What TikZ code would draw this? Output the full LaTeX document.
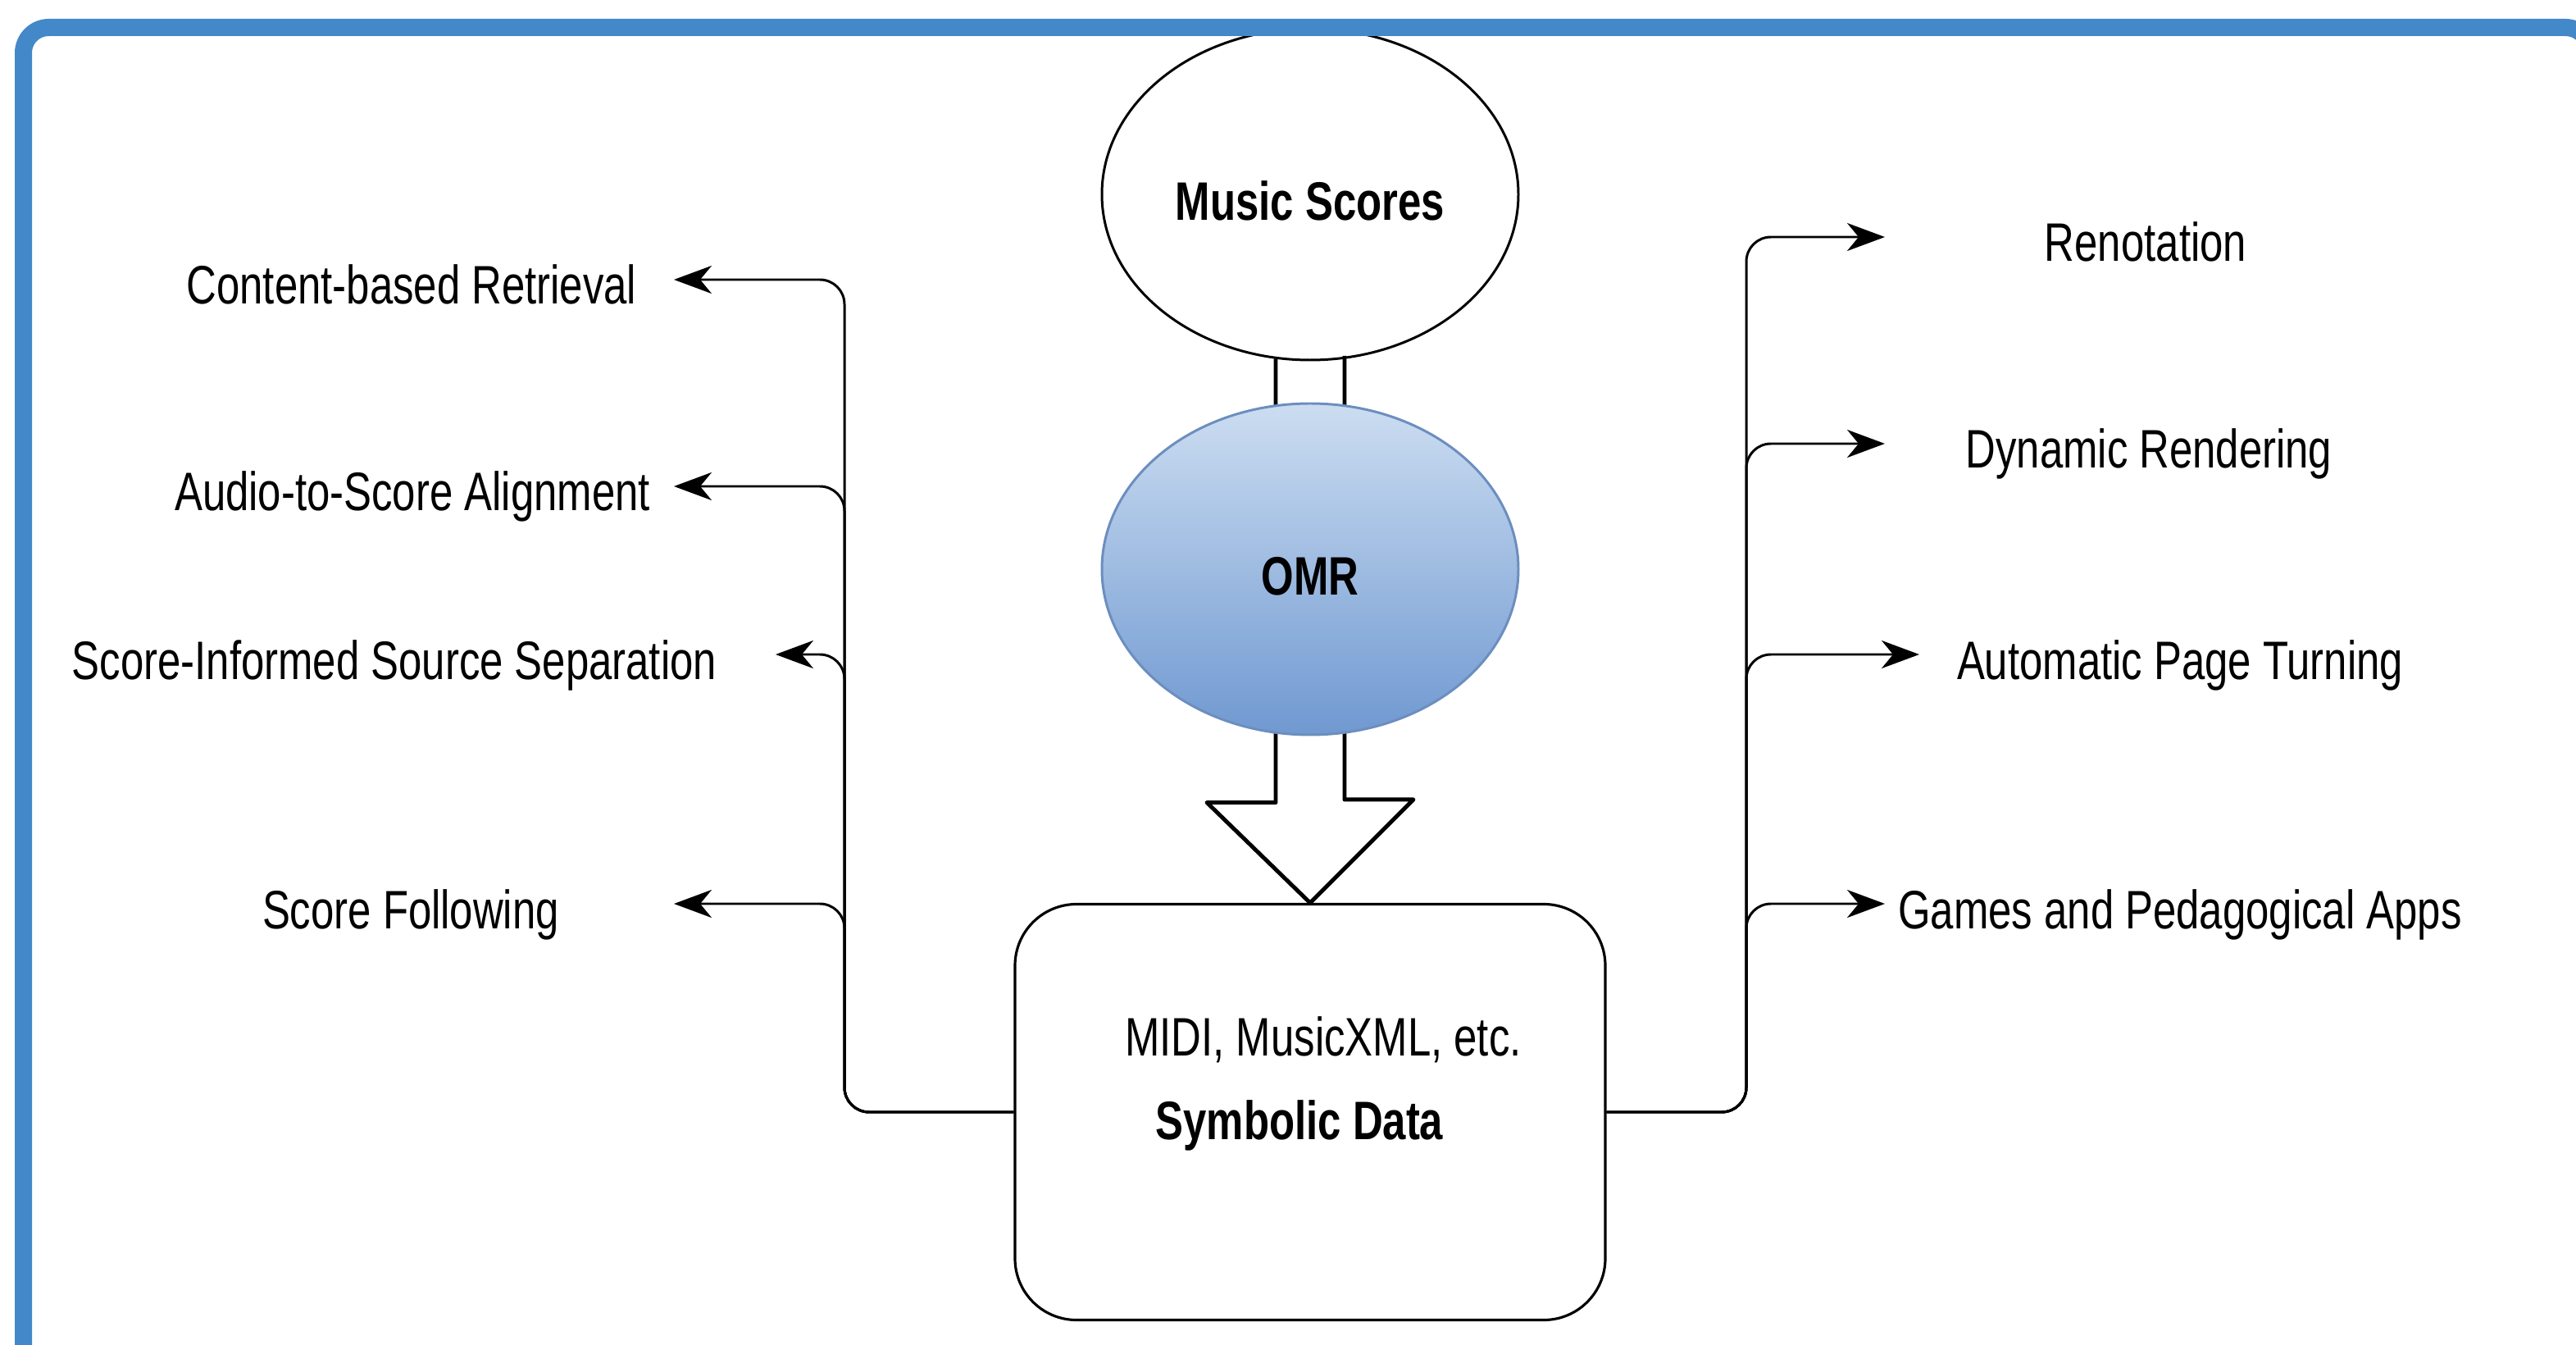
\documentclass[tikz,border=0pt]{standalone}
\usepackage{fontspec}
\setmainfont{Liberation Sans}[FakeStretch=0.77]
\usetikzlibrary{shapes.geometric, arrows.meta}

\definecolor{framecol}{HTML}{4388C8}
\definecolor{omrtop}{HTML}{CCDDF1}
\definecolor{omrbot}{HTML}{7099D1}
\definecolor{omrline}{HTML}{6C8EBF}

\tikzset{
    txt/.style={font=\fontsize{18.8}{22}\selectfont, inner sep=0pt, anchor=base},
    txtb/.style={txt, font=\fontsize{18.8}{22}\selectfont\bfseries},
    blob/.style={ellipse, draw, line width=0.85pt, minimum width=5.08cm, minimum height=4.04cm,
        text height=0.63cm, text depth=0pt, font=\fontsize{18.8}{22}\selectfont\bfseries},
    link/.style={line width=0.85pt, rounded corners=0.3cm, -{Stealth[length=4.6mm, width=3.4mm, inset=1.4mm]}},
}

\begin{document}
\begin{tikzpicture}
    \useasboundingbox (0,0) rectangle (31.42,-16.40);

    \node[draw, line width=0.9pt, rounded corners=0.75cm, minimum width=7.2cm, minimum height=5.07cm]
        (symb) at (15.98,-13.56) {};
    \node[txt] (midi) at (16.14,-12.87) {MIDI, MusicXML, etc.};
    \node[txtb] (symlbl) at (15.85,-13.89) {Symbolic Data};

    \node[blob, fill=white] (scores) at (15.98,-2.37) {Music Scores};

    \draw[line width=1.4pt, line join=round]
        ([xshift=-4.2mm, yshift=0.3mm]scores.south) -- ++(0,-5.41) -- ++(-0.84,0)
        -- (symb.north) -- ++(1.26,1.26) -- ++(-0.84,0) -- ++(0,5.41);

    \node[blob, draw=omrline, top color=omrtop, bottom color=omrbot] (omr) at (15.98,-6.94) {OMR};

    \node[txt] (cbr) at (5.02,-3.71) {Content-based Retrieval};
    \node[txt] (asa) at (5.03,-6.23) {Audio-to-Score Alignment};
    \node[txt] (siss) at (4.81,-8.28) {Score-Informed Source Separation};
    \node[txt] (sf) at (5.01,-11.32) {Score Following};

    \node[txt] (ren) at (26.17,-3.19) {Renotation};
    \node[txt] (dyn) at (26.21,-5.71) {Dynamic Rendering};
    \node[txt] (apt) at (26.59,-8.28) {Automatic Page Turning};
    \node[txt] (gpa) at (26.59,-11.32) {Games and Pedagogical Apps};

    \coordinate (lx) at (10.30,0);
    \coordinate (rx) at (21.30,0);
    \coordinate (t1) at (8.22,-3.41);
    \coordinate (t2) at (8.22,-5.93);
    \coordinate (t3) at (9.46,-7.98);
    \coordinate (t4) at (8.22,-11.02);
    \coordinate (r1) at (22.99,-2.89);
    \coordinate (r2) at (22.99,-5.41);
    \coordinate (r3) at (23.41,-7.98);
    \coordinate (r4) at (22.99,-11.02);

    \draw[link] (symb.west) -| (t1 -| lx) -- (t1);
    \draw[link] (symb.west) -| (t2 -| lx) -- (t2);
    \draw[link] (symb.west) -| (t3 -| lx) -- (t3);
    \draw[link] (symb.west) -| (t4 -| lx) -- (t4);

    \draw[link] (symb.east) -| (r1 -| rx) -- (r1);
    \draw[link] (symb.east) -| (r2 -| rx) -- (r2);
    \draw[link] (symb.east) -| (r3 -| rx) -- (r3);
    \draw[link] (symb.east) -| (r4 -| rx) -- (r4);

    \draw[framecol, line width=0.21cm, rounded corners=0.31cm] (0.285,-0.335) rectangle (31.6,-17.0);
\end{tikzpicture}
\end{document}
